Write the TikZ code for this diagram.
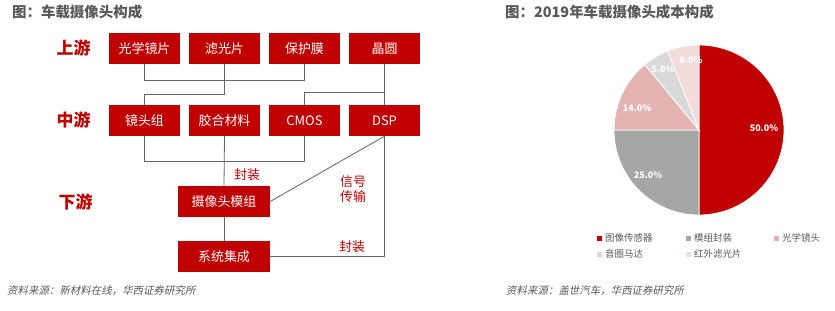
\documentclass[tikz,border=0pt]{standalone}
\usepackage{fontspec}
\usepackage{xcolor}
\usepackage{tikz}
\usetikzlibrary{positioning,calc}
\newfontfamily\cjk{Noto Sans CJK SC}
\newfontfamily\cjkit[FakeSlant=0.2]{Noto Sans CJK SC}
\definecolor{hxred}{HTML}{C00000}
\definecolor{hxgray}{HTML}{595959}
\definecolor{hxline}{HTML}{666666}
\definecolor{pieA}{HTML}{C00000}
\definecolor{pieB}{HTML}{A6A6A6}
\definecolor{pieC}{HTML}{E3B3B2}
\definecolor{pieD}{HTML}{D9D9D9}
\definecolor{pieE}{HTML}{F2DCDB}

\begin{document}
\begin{tikzpicture}[x=1bp, y=-1bp,
  box/.style={fill=hxred, text=white, minimum width=71bp, minimum height=31bp, inner sep=0pt, font=\cjk\fontsize{13}{15}\selectfont},
  widebox/.style={box, minimum width=92bp},
  tier/.style={text=hxred, font=\cjk\bfseries\fontsize{17}{19}\selectfont},
  note/.style={text=hxred, font=\cjk\fontsize{13}{15}\selectfont, align=center, inner sep=0pt},
  link/.style={draw=hxline, line width=0.8bp},
  heading/.style={text=hxgray, font=\cjk\bfseries\fontsize{14.5}{16}\selectfont, anchor=west, inner sep=0pt},
  source/.style={text=hxgray, font=\cjkit\fontsize{10.5}{12}\selectfont, anchor=west, inner sep=0pt},
  pct/.style={text=white, font=\cjk\bfseries\fontsize{9}{11}\selectfont, inner sep=0pt},
  legtext/.style={text=hxgray, font=\cjk\fontsize{9.5}{11}\selectfont, anchor=west, inner sep=0pt}]
\useasboundingbox (0,0) rectangle (835,310);

% left chart
\node[heading] (titleL) at (12,12) {图：车载摄像头构成};
\node[tier] (up) at (73.5,48) {上游};
\node[tier] (mid) at (73.5,120) {中游};
\node[tier] (down) at (75.5,202) {下游};
% upstream
\foreach \name/\x/\txt in {g1/144.5/光学镜片,g2/224.5/滤光片,g3/304.5/保护膜,g4/384.5/晶圆} {
  \node[box] (\name) at (\x,48.5) {\txt};
}
% midstream
\foreach \name/\x/\txt in {m1/144.5/镜头组,m2/224.5/胶合材料,m3/304.5/CMOS,m4/384.5/DSP} {
  \node[box] (\name) at (\x,120.5) {\txt};
}
% downstream
\node[widebox] (d1) at (224,201.5) {摄像头模组};
\node[widebox] (d2) at (224,256.5) {系统集成};

\draw[link] (g1.south) -- ++(0,16) -| (g3.south);
\draw[link] (g2.south) -- ++(0,30) -| (m1.north);
\draw[link] (g4.south) -- (m4.north);
\draw[link] (g4.south) ++(0,28) -| (m3.north);
\draw[link] (m1.south) -- ++(0,25) -| (m3.south);
\draw[link] (m2.south) -- (d1.north);
\draw[link] (d1) -- (d2);
\draw[link] (d1.east) -- (m4.south);
\draw[link] (m4.south) |- (d2.east);

\node[note] (pack1) at (247,175) {封装};
\node[note] (signal) at (353,189.5) {信号\\传输};
\node[note] (pack2) at (352,246.5) {封装};
\node[source] (srcL) at (7,291) {资料来源：新材料在线，华西证券研究所};

% right chart
\node[heading] (titleR) at (505,12) {图：2019年车载摄像头成本构成};
\begin{scope}[shift={(699,130)}, y=1bp]
  \foreach \a/\b/\col in {90/-90/pieA,-90/-180/pieB,-180/-230.4/pieC,-230.4/-248.4/pieD,-248.4/-270/pieE} {
    \filldraw[fill=\col, draw=white, line width=0.8bp] (0,0) -- (\a:85) arc[start angle=\a, end angle=\b, radius=85] -- cycle;
  }
\end{scope}
\node[pct] (p50) at (764,128) {50.0\%};
\node[pct] (p25) at (648,175) {25.0\%};
\node[pct] (p14) at (637,108) {14.0\%};
\node[pct] (p5) at (663,69) {5.0\%};
\node[pct] (p6) at (691,60) {6.0\%};
% legend
\foreach \name/\x/\y/\col/\txt in {l1/599/238/pieA/图像传感器,l2/688/238/pieB/模组封装,l3/776/238/pieC/光学镜头,l4/599/254/pieD/音圈马达,l5/688/254/pieE/红外滤光片} {
  \fill[\col] (\x-2.5,\y-2.5) rectangle (\x+2.5,\y+2.5);
  \node[legtext] (\name) at (\x+6,\y) {\txt};
}
\node[source] (srcR) at (506,291) {资料来源：盖世汽车，华西证券研究所};
\end{tikzpicture}
\end{document}
